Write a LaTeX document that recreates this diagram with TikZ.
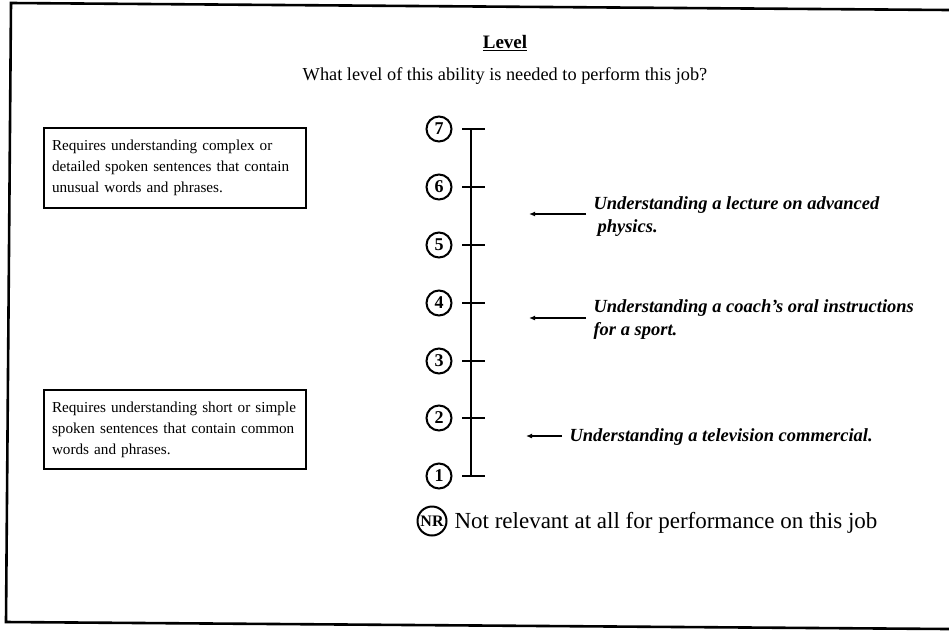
\documentclass[tikz,border=0pt]{standalone}
\usepackage{fontspec}
\setmainfont{Liberation Serif}
\usetikzlibrary{arrows.meta}
\begin{document}
\begin{tikzpicture}[x=1pt,y=-1pt,
  frame/.style={line width=2.6pt},
  descbox/.style={draw,line width=2pt,anchor=north west,minimum height=80pt,
    align=left,inner xsep=8pt,inner ysep=0pt,text width=246pt,
    font=\fontsize{15.2}{21}\selectfont},
  levelmark/.style={circle,draw,line width=2pt,minimum size=25pt,inner sep=0pt,
    font=\fontsize{18}{18}\selectfont\bfseries},
  tick/.style={line width=2.4pt},
  example/.style={anchor=west,align=left,
    font=\fontsize{18.5}{23}\selectfont\bfseries\itshape},
  pointer/.style={line width=1.6pt,-{Latex[length=6pt,width=5pt]}}
]
\useasboundingbox (0,0) rectangle (949,630);

% outer frame (open on the right)
\draw[frame] (949,10) -- (11,3) -- (6,622) -- (949,629);

% heading
\node[font=\fontsize{19}{19}\selectfont\bfseries] (title) at (505,43) {\underline{Level}};
\node[font=\fontsize{18.3}{20}\selectfont] (question) at (505,76)
  {What level of this ability is needed to perform this job?};

% level scale
\foreach \lv/\yy in {7/129,6/187,5/245,4/303,3/361,2/418,1/476}{
  \node[levelmark] (m\lv) at (439,\yy) {\lv};
  \coordinate (t\lv) at (471,\yy);
  \draw[tick] (462,\yy) -- (485,\yy);
}
\draw[tick] (t7) -- (t1);

% not relevant
\node[levelmark,minimum size=29pt,font=\fontsize{16}{16}\selectfont\bfseries]
  (nr) at (432,521) {NR};
\node[anchor=west,font=\fontsize{23}{23}\selectfont] (nrtext) at (451,523)
  {Not relevant at all for performance on this job};

% anchor descriptions
\node[descbox] (high) at (43,127)
  {\mbox{Requires understanding complex or}\\
   \mbox{detailed spoken sentences that contain}\\
   \mbox{unusual words and phrases.}};
\node[descbox,minimum height=79pt] (low) at (43,389)
  {\mbox{Requires understanding short or simple}\\
   \mbox{spoken sentences that contain common}\\
   \mbox{words and phrases.}};

% examples
\coordinate (p6) at (586,214);
\coordinate (q6) at (529,214);
\draw[pointer] (p6) -- (q6);
\node[example] (ex6) at (590,217)
  {Understanding a lecture on advanced\\ \hspace*{4pt}physics.};

\coordinate (p4) at (586,318);
\coordinate (q4) at (529,318);
\draw[pointer] (p4) -- (q4);
\node[example] (ex4) at (590,320)
  {Understanding a coach's oral instructions\\ for a sport.};

\coordinate (p2) at (562,436);
\coordinate (q2) at (526,436);
\draw[pointer] (p2) -- (q2);
\node[example] (ex2) at (566,437)
  {Understanding a television commercial.};
\end{tikzpicture}
\end{document}
